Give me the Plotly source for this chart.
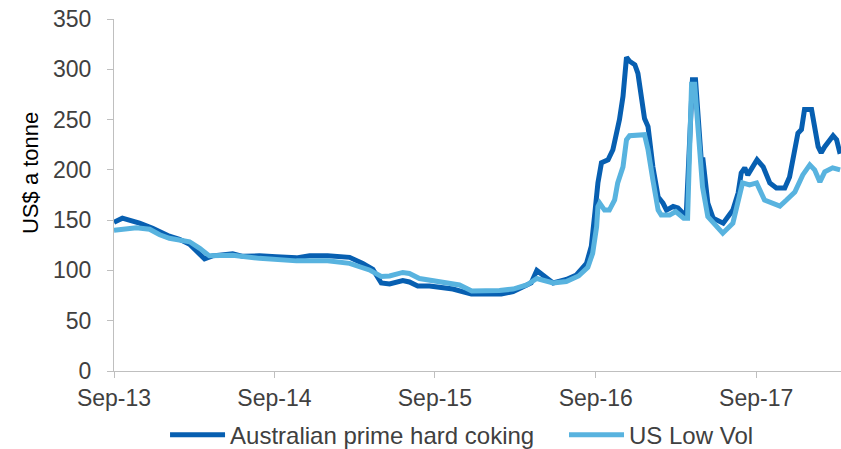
import plotly.graph_objects as go

# Australian prime hard coking coal, US$ a tonne
aus_dates = [
    "2013-09-01", "2013-09-20", "2013-10-29", "2013-11-28", "2014-01-05", "2014-01-28",
    "2014-02-20", "2014-03-07", "2014-03-26", "2014-04-13", "2014-05-29", "2014-06-21",
    "2014-07-29", "2014-09-05", "2014-10-21", "2014-11-20", "2014-12-31", "2015-02-19",
    "2015-03-21", "2015-04-13", "2015-05-02", "2015-05-21", "2015-06-20", "2015-07-05",
    "2015-07-24", "2015-08-20", "2015-10-12", "2015-11-23", "2015-12-27", "2016-01-30",
    "2016-02-26", "2016-03-27", "2016-04-07", "2016-04-20", "2016-05-15", "2016-05-27",
    "2016-06-26", "2016-07-19", "2016-08-11", "2016-08-22", "2016-08-30", "2016-09-06",
    "2016-09-14", "2016-09-29", "2016-10-10", "2016-10-25", "2016-11-02", "2016-11-10",
    "2016-11-17", "2016-11-29", "2016-12-06", "2016-12-14", "2016-12-21", "2016-12-29",
    "2017-01-09", "2017-01-21", "2017-02-01", "2017-02-09", "2017-02-24", "2017-03-07",
    "2017-03-18", "2017-03-26", "2017-04-03", "2017-04-09", "2017-04-16", "2017-04-24",
    "2017-04-29", "2017-05-03", "2017-05-14", "2017-05-26", "2017-06-18", "2017-07-10",
    "2017-07-22", "2017-07-29", "2017-08-06", "2017-08-13", "2017-09-03", "2017-09-17",
    "2017-10-02", "2017-10-17", "2017-11-05", "2017-11-16", "2017-12-05", "2017-12-13",
    "2017-12-20", "2018-01-05", "2018-01-12", "2018-01-20", "2018-01-27", "2018-02-04",
    "2018-02-23", "2018-03-03", "2018-03-11",
]
aus_values = [
    148, 152, 147, 142, 134, 131,
    126, 119, 111.5, 114.5, 116.5, 114,
    114.5, 113.5, 112.5, 114.5, 114.5, 113,
    107, 101, 87.5, 86.5, 90, 88.5,
    84.5, 84.5, 81.5, 76.5, 76.5, 76.5,
    79, 84.5, 87.5, 100, 91, 87.5,
    91, 95.5, 107, 124, 157, 187,
    207, 210, 220, 250, 273, 312,
    308, 304.5, 296, 273, 251, 243,
    203, 173, 167, 160, 163.5, 162,
    157, 156, 243, 289.5, 289.5, 243,
    210, 210, 167, 152, 147, 160,
    177, 197, 202, 195, 210, 203,
    187, 182, 182, 193, 236.5, 240,
    260, 260, 243, 223, 217, 223,
    234, 230, 216,
]

# US Low Vol hard coking coal, US$ a tonne
us_dates = [
    "2013-09-01", "2013-10-22", "2013-11-21", "2013-12-14", "2014-01-05", "2014-02-20",
    "2014-03-15", "2014-04-06", "2014-05-29", "2014-07-29", "2014-10-21", "2014-12-31",
    "2015-02-19", "2015-04-05", "2015-05-02", "2015-05-21", "2015-06-20", "2015-07-05",
    "2015-07-28", "2015-09-12", "2015-10-27", "2015-11-24", "2016-01-26", "2016-02-26",
    "2016-03-28", "2016-04-20", "2016-05-27", "2016-06-26", "2016-07-24", "2016-08-14",
    "2016-08-25", "2016-09-03", "2016-09-06", "2016-09-10", "2016-09-21", "2016-10-02",
    "2016-10-14", "2016-10-21", "2016-11-02", "2016-11-10", "2016-11-17", "2016-12-21",
    "2016-12-29", "2017-01-09", "2017-01-21", "2017-01-28", "2017-02-16", "2017-03-02",
    "2017-03-20", "2017-03-29", "2017-04-03", "2017-04-07", "2017-04-14", "2017-04-23",
    "2017-05-02", "2017-05-14", "2017-05-26", "2017-06-17", "2017-07-10", "2017-07-25",
    "2017-08-01", "2017-08-17", "2017-09-02", "2017-09-20", "2017-10-09", "2017-10-25",
    "2017-11-09", "2017-11-28", "2017-12-16", "2018-01-01", "2018-01-12", "2018-01-24",
    "2018-02-04", "2018-02-22", "2018-03-11",
]
us_values = [
    140, 142.5, 141, 135.5, 132, 128.5,
    122, 114.5, 115, 112, 109.5, 109.5,
    107, 100.5, 94, 94.5, 98, 97,
    92, 89, 85.5, 79.5, 80, 81.5,
    85.5, 92, 87.5, 89, 94.5, 103,
    117, 143.5, 163.5, 167, 160, 160,
    170, 187, 203, 230, 234, 235,
    220, 190, 160, 155, 155, 158.5,
    152, 152, 243, 285, 285, 227,
    183, 153.5, 147, 137, 147, 177,
    187, 185, 187, 170, 167, 164,
    170, 178, 195, 205, 200, 188,
    198, 202, 200,
]

y_ticks = [0, 50, 100, 150, 200, 250, 300, 350]

TEXT = "#404040"
AXIS = "#BFBFBF"
FONT = "Liberation Sans, Arial, sans-serif"

fig = go.Figure()
fig.add_trace(go.Scatter(
    x=aus_dates, y=aus_values, mode="lines",
    name="Australian prime hard coking",
    line=dict(color="#075FB1", width=5),
    legend="legend",
))
fig.add_trace(go.Scatter(
    x=us_dates, y=us_values, mode="lines",
    name="US Low Vol",
    line=dict(color="#58B3DF", width=5),
    legend="legend2",
))

legend_style = dict(
    orientation="h", xanchor="left", y=-0.182, yanchor="middle",
    font=dict(size=24, color=TEXT), itemwidth=55, bgcolor="rgba(0,0,0,0)",
)

fig.update_layout(
    width=841, height=449,
    margin=dict(l=114, r=0, t=19, b=78, autoexpand=False),
    paper_bgcolor="white", plot_bgcolor="white",
    font=dict(family=FONT, size=23, color=TEXT),
    showlegend=True,
    legend=dict(x=0.0702, **legend_style),
    legend2=dict(x=0.619, **legend_style),
    xaxis=dict(
        type="date", range=["2013-09-01", "2018-03-13"],
        tick0="2013-09-01", dtick="M12", tickformat="%b-%y",
        showgrid=False, zeroline=False,
        showline=True, linecolor=AXIS, linewidth=1,
        ticks="outside", ticklen=6, tickcolor=AXIS,
        tickfont=dict(size=23, color=TEXT),
    ),
    yaxis=dict(
        range=[0, 350], tickvals=y_ticks,
        showgrid=False, zeroline=False,
        showline=True, linecolor=AXIS, linewidth=1,
        ticks="outside", ticklen=6, tickcolor=AXIS,
        tickfont=dict(size=23, color=TEXT),
        ticklabelstandoff=11,
    ),
    annotations=[dict(
        text="US$ a tonne", textangle=-90, showarrow=False,
        xref="paper", yref="paper", x=-0.1155, y=0.5625,
        xanchor="center", yanchor="middle",
        font=dict(size=22, color="#000000"),
    )],
)

fig.write_html("out.html")
